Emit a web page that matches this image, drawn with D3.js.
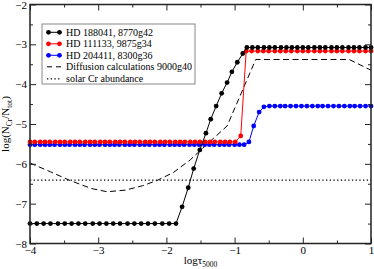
<!DOCTYPE html>
<html><head><meta charset="utf-8">
<script src="https://cdn.jsdelivr.net/npm/d3@7"></script>
<style>
html,body{margin:0;padding:0;background:#fff;}
svg{display:block;font-family:"Liberation Serif","Times New Roman",serif;}
</style></head>
<body><svg id="c" width="374" height="269"></svg>
<script>
// ---- data ----
const xTicks = [-4, -3, -2, -1, 0, 1];
const yTicks = [-2, -3, -4, -5, -6, -7, -8];
const xMinor = [-3.5, -2.5, -1.5, -0.5, 0.5];
const yMinor = [-2.5, -3.5, -4.5, -5.5, -6.5, -7.5];

const blackX = [-4.00,-3.90,-3.80,-3.70,-3.59,-3.49,-3.39,-3.29,-3.19,-3.08,-2.98,-2.88,-2.78,-2.68,-2.57,-2.47,-2.37,-2.27,-2.17,-2.06,-1.96,-1.86,
  -1.77,-1.68,-1.60,-1.51,-1.42,-1.35,-1.27,-1.19,-1.11,-1.04,-0.96,-0.88,
  -0.82,-0.74,-0.66,-0.57,-0.49,-0.41,-0.32,-0.24,-0.16,-0.08,0.00,0.08,0.17,0.25,0.33,0.42,0.50,0.58,0.67,0.75,0.83,0.92,1.00];
const blackY = [-7.5,-7.5,-7.5,-7.5,-7.5,-7.5,-7.5,-7.5,-7.5,-7.5,-7.5,-7.5,-7.5,-7.5,-7.5,-7.5,-7.5,-7.5,-7.5,-7.5,-7.5,-7.5,
  -7.08,-6.60,-6.12,-5.65,-5.23,-4.88,-4.55,-4.23,-3.96,-3.69,-3.45,-3.23,
  -3.08,-3.08,-3.08,-3.08,-3.08,-3.08,-3.08,-3.08,-3.08,-3.08,-3.08,-3.08,-3.08,-3.08,-3.08,-3.08,-3.08,-3.08,-3.08,-3.08,-3.08,-3.08,-3.08];

const redX = [-4.00,-3.93,-3.85,-3.78,-3.71,-3.63,-3.56,-3.49,-3.41,-3.34,-3.27,-3.19,-3.12,-3.05,-2.97,-2.90,-2.83,-2.75,-2.68,-2.61,-2.53,-2.46,-2.39,-2.31,-2.24,-2.17,-2.09,-2.02,-1.95,-1.87,-1.80,-1.73,-1.65,-1.58,-1.51,-1.43,-1.36,-1.29,-1.21,-1.14,-1.07,-0.99,
  -0.91,
  -0.83,-0.75,-0.66,-0.58,-0.50,-0.41,-0.33,-0.25,-0.17,-0.08,0.00,0.08,0.17,0.25,0.33,0.42,0.50,0.58,0.67,0.75,0.83,0.92,1.00];
const redY = [-5.45,-5.45,-5.45,-5.45,-5.45,-5.45,-5.45,-5.45,-5.45,-5.45,-5.45,-5.45,-5.45,-5.45,-5.45,-5.45,-5.45,-5.45,-5.45,-5.45,-5.45,-5.45,-5.45,-5.45,-5.45,-5.45,-5.45,-5.45,-5.45,-5.45,-5.45,-5.45,-5.45,-5.45,-5.45,-5.45,-5.45,-5.45,-5.45,-5.45,-5.45,-5.45,
  -5.30,
  -3.17,-3.17,-3.17,-3.17,-3.17,-3.17,-3.17,-3.17,-3.17,-3.17,-3.17,-3.17,-3.17,-3.17,-3.17,-3.17,-3.17,-3.17,-3.17,-3.17,-3.17,-3.17,-3.17];

const blueX = [-4.00,-3.93,-3.85,-3.78,-3.71,-3.64,-3.56,-3.49,-3.42,-3.34,-3.27,-3.20,-3.12,-3.05,-2.98,-2.90,-2.83,-2.76,-2.69,-2.61,-2.54,-2.47,-2.39,-2.32,-2.25,-2.17,-2.10,-2.03,-1.95,-1.88,-1.81,-1.74,-1.66,-1.59,-1.52,-1.44,-1.37,-1.30,-1.22,-1.15,-1.08,-1.00,-0.93,-0.86,
  -0.79,-0.72,-0.64,
  -0.57,-0.49,-0.41,-0.33,-0.26,-0.18,-0.10,-0.02,0.06,0.14,0.22,0.29,0.37,0.45,0.53,0.61,0.69,0.76,0.84,0.92,1.00];
const blueY = [-5.52,-5.52,-5.52,-5.52,-5.52,-5.52,-5.52,-5.52,-5.52,-5.52,-5.52,-5.52,-5.52,-5.52,-5.52,-5.52,-5.52,-5.52,-5.52,-5.52,-5.52,-5.52,-5.52,-5.52,-5.52,-5.52,-5.52,-5.52,-5.52,-5.52,-5.52,-5.52,-5.52,-5.52,-5.52,-5.52,-5.52,-5.52,-5.52,-5.52,-5.52,-5.52,-5.52,-5.52,
  -5.45,-5.05,-4.70,
  -4.57,-4.55,-4.55,-4.55,-4.55,-4.55,-4.55,-4.55,-4.55,-4.55,-4.55,-4.55,-4.55,-4.55,-4.55,-4.55,-4.55,-4.55,-4.55,-4.55,-4.55];

const diffX = [-4.00,-3.70,-3.41,-3.10,-2.87,-2.60,-2.35,-2.14,-1.90,-1.65,-1.40,-1.11,-0.69,0.68,1.00];
const diffY = [-5.98,-6.20,-6.42,-6.62,-6.70,-6.66,-6.55,-6.42,-6.22,-5.90,-5.50,-5.05,-3.38,-3.38,-3.65];

const solarCr = -6.41;

const seriesNames = ["HD 188041, 8770g42", "HD 111133, 9875g34", "HD 204411, 8300g36",
                     "Diffusion calculations 9000g40", "solar Cr abundance"];
const seriesColors = ["#000000", "#ff0000", "#0000ff"];

// ---- chart ----
const svg = d3.select("#c");
const L = 30, R = 371, T = 4.5, B = 243.5;
const x = d3.scaleLinear().domain([-4, 1]).range([L, R]);
const y = d3.scaleLinear().domain([-8, -2]).range([B, T]);

// clip
svg.append("defs").append("clipPath").attr("id", "pc")
  .append("rect").attr("x", L).attr("y", T).attr("width", R - L).attr("height", B - T);

const plot = svg.append("g");

// solar dotted
plot.append("line")
  .attr("x1", x(-4)).attr("x2", x(1)).attr("y1", y(solarCr)).attr("y2", y(solarCr))
  .attr("stroke", "#000").attr("stroke-width", 1.3).attr("stroke-dasharray", "1.3,2.4");

// diffusion dashed
const line = d3.line().x(d => x(d[0])).y(d => y(d[1]));
plot.append("path").datum(diffX.map((v, i) => [v, diffY[i]]))
  .attr("d", line).attr("fill", "none").attr("stroke", "#000")
  .attr("stroke-width", 1).attr("stroke-dasharray", "6,3.5");

const data = [[blueX, blueY, seriesColors[2]], [redX, redY, seriesColors[1]], [blackX, blackY, seriesColors[0]]];
data.forEach(([xs, ys, col]) => {
  const pts = xs.map((v, i) => [v, ys[i]]);
  plot.append("path").datum(pts).attr("d", line).attr("fill", "none")
    .attr("stroke", col).attr("stroke-width", 1);
  plot.append("g").selectAll("circle").data(pts).join("circle")
    .attr("cx", d => x(d[0])).attr("cy", d => y(d[1])).attr("r", 2.4).attr("fill", col);
});

// axes
const axCol = "#222";
function styleAxis(g) {
  g.select(".domain").remove();
  g.selectAll(".tick line").attr("stroke", axCol).attr("stroke-width", 1);
  g.selectAll(".tick text").attr("fill", "#000").attr("font-size", 11)
    .attr("font-family", "Liberation Serif, serif");
}
svg.append("g").attr("transform", `translate(0,${B})`)
  .call(d3.axisBottom(x).tickValues(xTicks).tickSizeInner(-6).tickSizeOuter(0).tickPadding(3).tickFormat(d3.format("d")))
  .call(styleAxis);
svg.append("g").attr("transform", `translate(0,${B})`)
  .call(d3.axisBottom(x).tickValues(xMinor).tickSizeInner(-3).tickSizeOuter(0).tickFormat(""))
  .call(styleAxis);
svg.append("g").attr("transform", `translate(0,${T})`)
  .call(d3.axisTop(x).tickValues(xTicks).tickSizeInner(-6).tickSizeOuter(0).tickFormat(""))
  .call(styleAxis);
svg.append("g").attr("transform", `translate(0,${T})`)
  .call(d3.axisTop(x).tickValues(xMinor).tickSizeInner(-3).tickSizeOuter(0).tickFormat(""))
  .call(styleAxis);
svg.append("g").attr("transform", `translate(${L},0)`)
  .call(d3.axisLeft(y).tickValues(yTicks).tickSizeInner(-6).tickSizeOuter(0).tickPadding(3).tickFormat(d3.format("d")))
  .call(styleAxis);
svg.append("g").attr("transform", `translate(${L},0)`)
  .call(d3.axisLeft(y).tickValues(yMinor).tickSizeInner(-3).tickSizeOuter(0).tickFormat(""))
  .call(styleAxis);
svg.append("g").attr("transform", `translate(${R},0)`)
  .call(d3.axisRight(y).tickValues(yTicks).tickSizeInner(-6).tickSizeOuter(0).tickFormat(""))
  .call(styleAxis);
svg.append("g").attr("transform", `translate(${R},0)`)
  .call(d3.axisRight(y).tickValues(yMinor).tickSizeInner(-3).tickSizeOuter(0).tickFormat(""))
  .call(styleAxis);

// frame
svg.append("rect").attr("x", L).attr("y", T).attr("width", R - L).attr("height", B - T)
  .attr("fill", "none").attr("stroke", axCol).attr("stroke-width", 1.5);

// axis titles
const xt = svg.append("text").attr("x", (L + R) / 2).attr("y", 264)
  .attr("text-anchor", "middle").attr("font-size", 11);
xt.append("tspan").text("logτ");
xt.append("tspan").attr("font-size", 7.5).attr("dy", 3).text("5000");

const yt = svg.append("text").attr("transform", `translate(9,${(T + B) / 2}) rotate(-90)`)
  .attr("text-anchor", "middle").attr("font-size", 11);
yt.append("tspan").text("log(N");
yt.append("tspan").attr("font-size", 7.5).attr("dy", 3).text("Cr");
yt.append("tspan").attr("dy", -3).text("/N");
yt.append("tspan").attr("font-size", 7.5).attr("dy", 3).text("tot");
yt.append("tspan").attr("dy", -3).text(")");

// legend
const lg = svg.append("g");
lg.append("rect").attr("x", 42).attr("y", 24).attr("width", 153).attr("height", 60)
  .attr("fill", "#fff").attr("stroke", "#888").attr("stroke-width", 1);
const rowY = [32.3, 43.8, 55.3, 66.8, 78.8];
seriesNames.forEach((name, i) => {
  const yy = rowY[i];
  if (i < 3) {
    lg.append("line").attr("x1", 48.5).attr("x2", 59.5).attr("y1", yy).attr("y2", yy)
      .attr("stroke", seriesColors[i]).attr("stroke-width", 1);
    [48.5, 59.5].forEach(cx => lg.append("circle").attr("cx", cx).attr("cy", yy).attr("r", 2.4).attr("fill", seriesColors[i]));
  } else if (i === 3) {
    lg.append("line").attr("x1", 47).attr("x2", 61).attr("y1", yy).attr("y2", yy)
      .attr("stroke", "#000").attr("stroke-width", 1).attr("stroke-dasharray", "5,4");
  } else {
    lg.append("line").attr("x1", 47).attr("x2", 61).attr("y1", yy).attr("y2", yy)
      .attr("stroke", "#000").attr("stroke-width", 1.3).attr("stroke-dasharray", "1.3,2.4");
  }
  lg.append("text").attr("x", 66).attr("y", yy).attr("dy", "0.35em")
    .attr("font-size", 10).text(name);
});
</script></body></html>
